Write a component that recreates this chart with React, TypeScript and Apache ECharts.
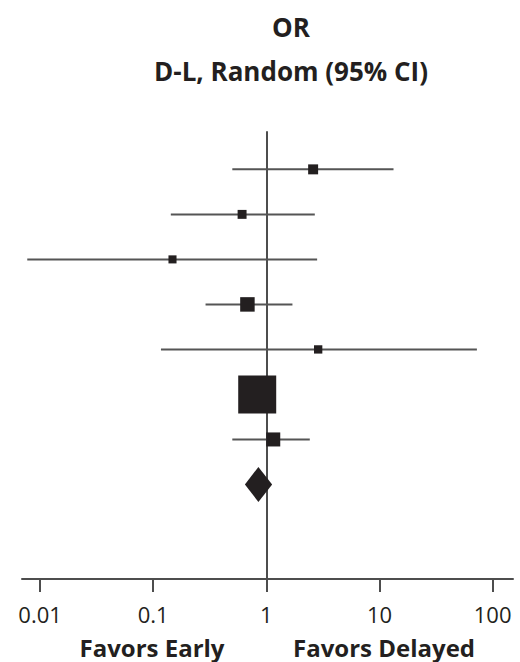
import React, { useEffect, useRef } from "react";
import * as echarts from "echarts";

// Individual studies, top to bottom
const oddsRatio = [2.59, 0.61, 0.148, 0.68, 2.87, 0.83, 1.15];
const ciLower = [0.5, 0.143, 0.0077, 0.29, 0.117, 0.7, 0.5];
const ciUpper = [13.3, 2.68, 2.81, 1.7, 72.6, 0.99, 2.42];
const weightPct = [4.6, 3.7, 3.0, 9.7, 3.2, 66.7, 9.1];

// Pooled random-effects estimate (DerSimonian-Laird)
const pooledOR = 0.85;
const pooledLower = 0.646;
const pooledUpper = 1.125;

const tickValues = [0.01, 0.1, 1, 10, 100];
const titleLines = ["OR", "D-L, Random (95% CI)"];
const favorsLabels = ["Favors Early", "Favors Delayed"];

const INK = "#231f20";
const FONT = "'Open Sans', 'Noto Sans', sans-serif";

export default function App() {
  const ref = useRef<HTMLDivElement>(null);

  useEffect(() => {
    document.body.style.margin = "0";
    if (!ref.current) return;
    const chart = echarts.init(ref.current, undefined, { renderer: "svg" });

    const lg = (v: number) => Math.log10(v);
    const rows = oddsRatio.map((_, i) => i + 1);
    const pooledRow = rows.length + 1;
    const tickLogs = tickValues.map(lg);

    const ciData = rows.map((r, i) => [lg(ciLower[i]), lg(ciUpper[i]), r]);
    const pointData = rows.map((r, i) => ({
      value: [lg(oddsRatio[i]), r],
      symbolSize: Math.sqrt(weightPct[i] * 21.64),
    }));

    chart.setOption({
      animation: false,
      grid: { left: 22, right: 7, top: 132, bottom: 83, containLabel: false },
      xAxis: {
        type: "value",
        min: -2.16,
        max: 2.18,
        axisLine: { show: true, onZero: false, lineStyle: { color: "#4d4d4d", width: 2 } },
        axisTick: {
          show: true,
          customValues: tickLogs,
          length: 13,
          lineStyle: { color: "#4d4d4d", width: 2 },
        },
        axisLabel: {
          customValues: tickLogs,
          margin: 24,
          color: INK,
          fontFamily: FONT,
          fontSize: 22,
          formatter: (v: number) => {
            const idx = tickLogs.findIndex((t) => Math.abs(t - v) < 1e-6);
            return idx >= 0 ? String(tickValues[idx]) : "";
          },
        },
        splitLine: { show: false },
      },
      yAxis: {
        type: "value",
        inverse: true,
        min: 0.17,
        max: 10.1,
        axisLine: { show: true, onZero: true, lineStyle: { color: "#4d4d4d", width: 2 } },
        axisTick: { show: false },
        axisLabel: { show: false },
        splitLine: { show: false },
      },
      series: [
        {
          type: "custom",
          name: "95% CI",
          data: ciData,
          renderItem: (params: any, api: any) => {
            const a = api.coord([api.value(0), api.value(2)]);
            const b = api.coord([api.value(1), api.value(2)]);
            return {
              type: "line",
              shape: { x1: a[0], y1: a[1], x2: b[0], y2: b[1] },
              style: { stroke: "#555555", lineWidth: 2 },
            };
          },
          z: 2,
        },
        {
          type: "scatter",
          name: "OR",
          symbol: "rect",
          data: pointData,
          itemStyle: { color: INK, opacity: 1 },
          z: 3,
        },
        {
          type: "custom",
          name: "Pooled",
          data: [[lg(pooledLower), lg(pooledOR), lg(pooledUpper), pooledRow]],
          renderItem: (params: any, api: any) => {
            const lo = api.coord([api.value(0), api.value(3)]);
            const mid = api.coord([api.value(1), api.value(3)]);
            const hi = api.coord([api.value(2), api.value(3)]);
            const h = 17.5;
            return {
              type: "polygon",
              shape: {
                points: [
                  [lo[0], lo[1]],
                  [mid[0], mid[1] - h],
                  [hi[0], hi[1]],
                  [mid[0], mid[1] + h],
                ],
              },
              style: { fill: INK },
            };
          },
          z: 3,
        },
      ],
      graphic: [
        {
          type: "text",
          x: 291,
          y: 27,
          style: {
            text: titleLines[0],
            fill: INK,
            font: `bold 26px ${FONT}`,
            textAlign: "center",
            textVerticalAlign: "middle",
          },
        },
        {
          type: "text",
          x: 291,
          y: 71,
          style: {
            text: titleLines[1],
            fill: INK,
            font: `bold 26px ${FONT}`,
            textAlign: "center",
            textVerticalAlign: "middle",
          },
        },
        {
          type: "text",
          x: 152,
          y: 647,
          style: {
            text: favorsLabels[0],
            fill: INK,
            font: `bold 24px ${FONT}`,
            textAlign: "center",
            textVerticalAlign: "middle",
          },
        },
        {
          type: "text",
          x: 384,
          y: 647,
          style: {
            text: favorsLabels[1],
            fill: INK,
            font: `bold 24px ${FONT}`,
            textAlign: "center",
            textVerticalAlign: "middle",
          },
        },
      ],
    });

    return () => chart.dispose();
  }, []);

  return <div ref={ref} style={{ width: 520, height: 662 }} />;
}
